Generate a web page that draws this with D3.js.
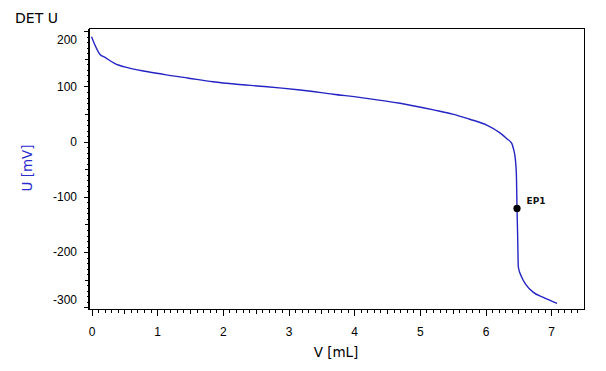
<!DOCTYPE html>
<html>
<head>
<meta charset="utf-8">
<script src="https://cdn.jsdelivr.net/npm/d3@7"></script>
<style>
  body { margin: 0; background: #fff; }
  svg { display: block; font-family: "DejaVu Sans", Verdana, sans-serif; }
  .axis path, .axis line { stroke: #000; shape-rendering: crispEdges; }
  .axis text { fill: #000; font-size: 12px; }
</style>
</head>
<body>
<div id="chart"></div>
<script>
"use strict";

// titration curve
const volume = [0.00, 0.13, 0.20, 0.35, 0.55, 0.84, 1.14, 1.48, 1.85, 2.21, 2.57, 2.90,
  3.18, 3.68, 4.19, 4.70, 5.21, 5.50, 5.75, 6.02, 6.22, 6.33, 6.40, 6.43, 6.45, 6.47,
  6.48, 6.49, 6.50, 6.55, 6.61, 6.73, 6.88, 7.09];
const potential = [190, 158, 153, 142, 134, 127, 121, 115, 108.5, 104, 100.5, 97,
  93.5, 86, 78.5, 69.5, 57.5, 50, 41, 30, 16, 5, -3, -15, -27, -58,
  -121, -173, -227, -245, -258, -273, -282, -293];

const endPoint = { v: 6.48, u: -121, label: 'EP1' };

const xMajor = [0, 1, 2, 3, 4, 5, 6, 7];
const yMajor = [200, 100, 0, -100, -200, -300];

const width = 606;
const height = 371;
const plot = { left: 91.5, right: 584, top: 28.5, bottom: 309.5 };
const axisX = 88.5;

let x = d3.scaleLinear()
  .domain([0, 7.5])
  .range([plot.left, plot.right]);

let y = d3.scaleLinear()
  .domain([-304, 205])
  .range([plot.bottom, plot.top]);

let svg = d3.select('#chart')
  .append('svg')
  .attr('width', width)
  .attr('height', height);

// frame
svg.append('rect')
  .attr('x', axisX + 1)
  .attr('y', plot.top)
  .attr('width', plot.right - axisX - 1)
  .attr('height', plot.bottom - plot.top)
  .attr('fill', 'none')
  .attr('stroke', '#000')
  .attr('shape-rendering', 'crispEdges');

// tick levels
let xMinor = d3.range(0, 75).map(i => i / 10).filter(d => Math.round(d * 10) % 5 !== 0);
let xMid = d3.range(0, 15).map(i => i / 2).filter(d => d % 1 !== 0);
let yMinor = d3.range(-300, 201, 10).filter(d => d % 50 !== 0);
let yMid = d3.range(-250, 201, 100);

function addX(values, size, labels) {
  let g = svg.append('g')
    .attr('class', 'axis')
    .attr('transform', 'translate(0,' + plot.bottom + ')')
    .call(d3.axisBottom(x).tickValues(values).tickSize(size).tickSizeOuter(0)
      .tickPadding(11.5).tickFormat(labels ? d => String(d) : ''));
  if (!labels) g.select('.domain').remove();
  return g;
}

function addY(values, size, labels) {
  let g = svg.append('g')
    .attr('class', 'axis')
    .attr('transform', 'translate(' + axisX + ',0)')
    .call(d3.axisLeft(y).tickValues(values).tickSize(size).tickSizeOuter(0)
      .tickPadding(6.5).tickFormat(labels ? d => String(d) : ''));
  if (!labels) g.select('.domain').remove();
  return g;
}

addX(xMinor, 3, false);
addX(xMid, 4.5, false);
let xAxis = addX(xMajor, 6, true);
xAxis.select('.domain').attr('d', 'M' + (axisX + 0.5) + ',0H' + (plot.right - 4));

addY(yMinor, 2, false);
addY(yMid, 3.5, false);
let yAxis = addY(yMajor, 5, true);
yAxis.select('.domain').attr('d', 'M0,' + plot.top + 'V' + plot.bottom);

// keep edge labels inside the frame
yAxis.selectAll('.tick text')
  .attr('y', d => {
    let p = y(d);
    let c = Math.max(plot.top + 11.5, Math.min(plot.bottom - 9.5, p));
    return c - p;
  });

// curve
let points = volume.map((v, i) => ({ v: v, u: potential[i] }));

let line = d3.line()
  .x(d => x(d.v))
  .y(d => y(d.u))
  .curve(d3.curveMonotoneX);

svg.append('path')
  .datum(points)
  .attr('d', line)
  .attr('fill', 'none')
  .attr('stroke', '#2424c4')
  .attr('stroke-width', 1.4);

svg.append('circle')
  .attr('cx', x(endPoint.v))
  .attr('cy', y(endPoint.u))
  .attr('r', 3.6)
  .attr('fill', '#000');

svg.append('text')
  .attr('x', x(endPoint.v) + 9.5)
  .attr('y', y(endPoint.u) - 4)
  .attr('font-size', 9)
  .attr('font-weight', 'bold')
  .attr('fill', '#111')
  .text(endPoint.label);

// titles
svg.append('text')
  .attr('x', 15)
  .attr('y', 23)
  .attr('font-size', 14)
  .attr('fill', '#000')
  .text('DET U');

svg.append('text')
  .attr('transform', 'translate(32,168) rotate(-90)')
  .attr('text-anchor', 'middle')
  .attr('font-size', 13.5)
  .attr('fill', '#2a2ad0')
  .text('U [mV]');

svg.append('text')
  .attr('x', 336)
  .attr('y', 357)
  .attr('text-anchor', 'middle')
  .attr('font-size', 13.5)
  .attr('fill', '#000')
  .text('V [mL]');
</script>
</body>
</html>
